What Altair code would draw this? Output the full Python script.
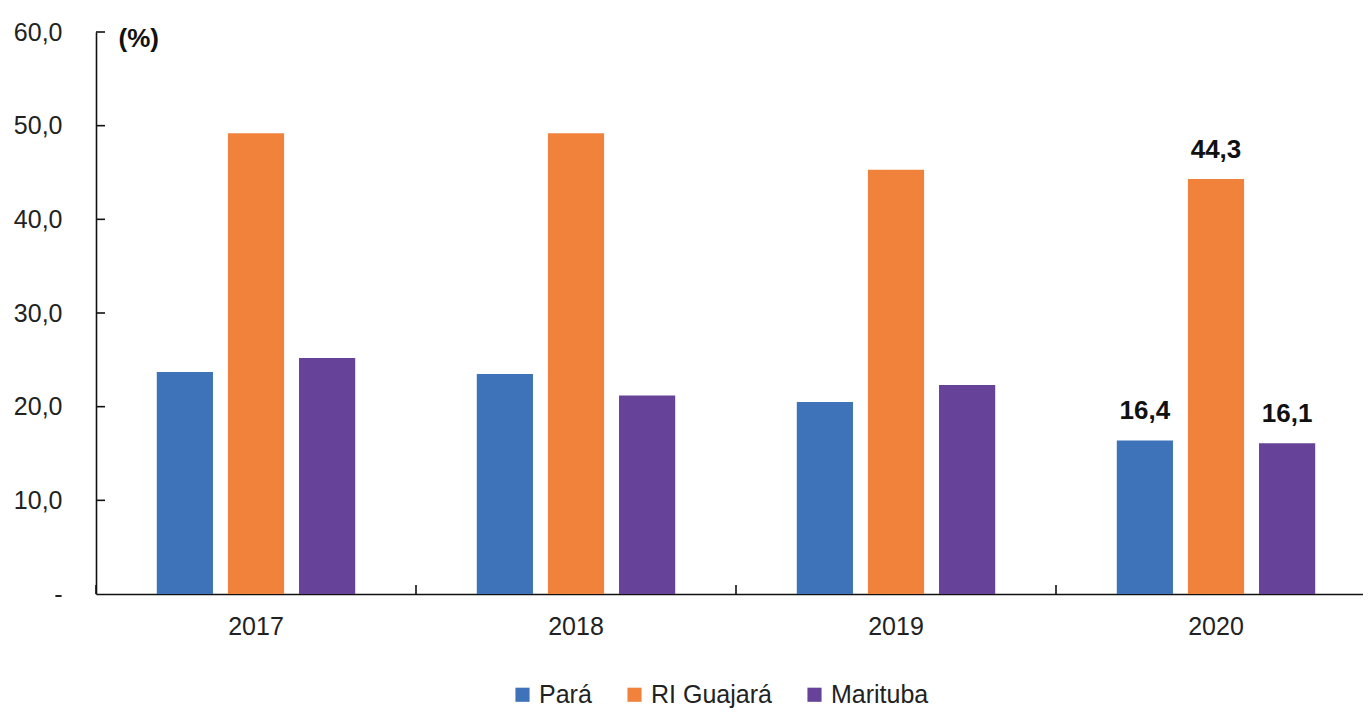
import altair as alt
import pandas as pd

years = ["2017", "2018", "2019", "2020"]
series = ["Pará", "RI Guajará", "Marituba"]
para = [23.7, 23.5, 20.5, 16.4]
ri_guajara = [49.2, 49.2, 45.3, 44.3]
marituba = [25.2, 21.2, 22.3, 16.1]
labeled_year = "2020"
y_tick_values = [0, 10, 20, 30, 40, 50, 60]
colors = ["#3E72B9", "#F0823C", "#664398"]

rows = []
for i, yr in enumerate(years):
    for s, vals in zip(series, [para, ri_guajara, marituba]):
        rows.append({"year": yr, "series": s, "value": vals[i]})
df = pd.DataFrame(rows)
tick_df = pd.DataFrame({"value": [v for v in y_tick_values if v > 0]})
year_df = pd.DataFrame({"year": years})

W, H = 1267, 562
FONT = "Liberation Sans"

xscale = alt.Scale(domain=years, range=[0, 1280], paddingInner=0.38, paddingOuter=0.19)
yscale = alt.Scale(domain=[0, 60], nice=False)
offscale = alt.Scale(domain=series, paddingInner=0.21, paddingOuter=0)

x_enc = alt.X(
    "year:N", scale=xscale, sort=years,
    axis=alt.Axis(title=None, labelAngle=0, ticks=False, labelPadding=20,
                  labelFontSize=25, labelFont=FONT, labelColor="#222",
                  domainColor="#111", domainWidth=1.6),
)
y_enc = alt.Y(
    "value:Q", scale=yscale,
    axis=alt.Axis(values=y_tick_values, ticks=False, grid=False, labelPadding=34,
                  labelFontSize=25, labelFont=FONT, labelColor="#222",
                  labelExpr="datum.value == 0 ? '-' : replace(format(datum.value, '.1f'), '.', ',')",
                  domainColor="#111", domainWidth=1.6,
                  title="(%)", titleAngle=0, titleAlign="left", titleBaseline="middle",
                  titleX=22, titleY=6, titleFontSize=26, titleFontWeight="bold",
                  titleFont=FONT, titleColor="#111"),
)

bars = alt.Chart(df).mark_bar().encode(
    x=x_enc,
    xOffset=alt.XOffset("series:N", sort=series, scale=offscale),
    y=y_enc,
    color=alt.Color(
        "series:N", sort=series,
        scale=alt.Scale(domain=series, range=colors),
        legend=alt.Legend(title=None, orient="none", direction="horizontal",
                          legendX=414, legendY=650, symbolType="square",
                          symbolSize=200, symbolStrokeWidth=0, labelFontSize=25,
                          labelFont=FONT, labelColor="#222", labelOffset=4,
                          columnPadding=30),
    ),
)

labels = alt.Chart(df).transform_filter(
    alt.datum.year == labeled_year
).transform_calculate(
    lbl="replace(format(datum.value, '.1f'), '.', ',')"
).mark_text(
    dy=-21, baseline="alphabetic", fontSize=26, fontWeight="bold", font=FONT, color="#111"
).encode(
    x=alt.X("year:N", scale=xscale, sort=years),
    xOffset=alt.XOffset("series:N", sort=series, scale=offscale),
    y=alt.Y("value:Q", scale=yscale),
    text="lbl:N",
)

ytick_rules = alt.Chart(tick_df).mark_rule(color="#111", strokeWidth=1.6).encode(
    y=alt.Y("value:Q", scale=yscale),
    x=alt.value(0),
    x2=alt.value(9),
)

main = alt.layer(bars, labels, ytick_rules)

xtick_rules = alt.Chart(year_df).mark_rule(color="#111", strokeWidth=1.6).encode(
    x=alt.X("year:N", sort=years,
            scale=alt.Scale(domain=years, range=[0, 1280], paddingInner=0, paddingOuter=0),
            bandPosition=0, axis=None),
    y=alt.value(H),
    y2=alt.value(H - 9),
)

chart = alt.layer(main, xtick_rules).resolve_scale(x="independent").properties(
    width=W, height=H,
    autosize=alt.AutoSizeParams(type="none"),
    padding={"left": 88, "top": 24, "right": 0, "bottom": 119},
    background="white",
).configure_view(stroke=None)

chart.save("out.html", embed_options={"renderer": "svg", "actions": False})
